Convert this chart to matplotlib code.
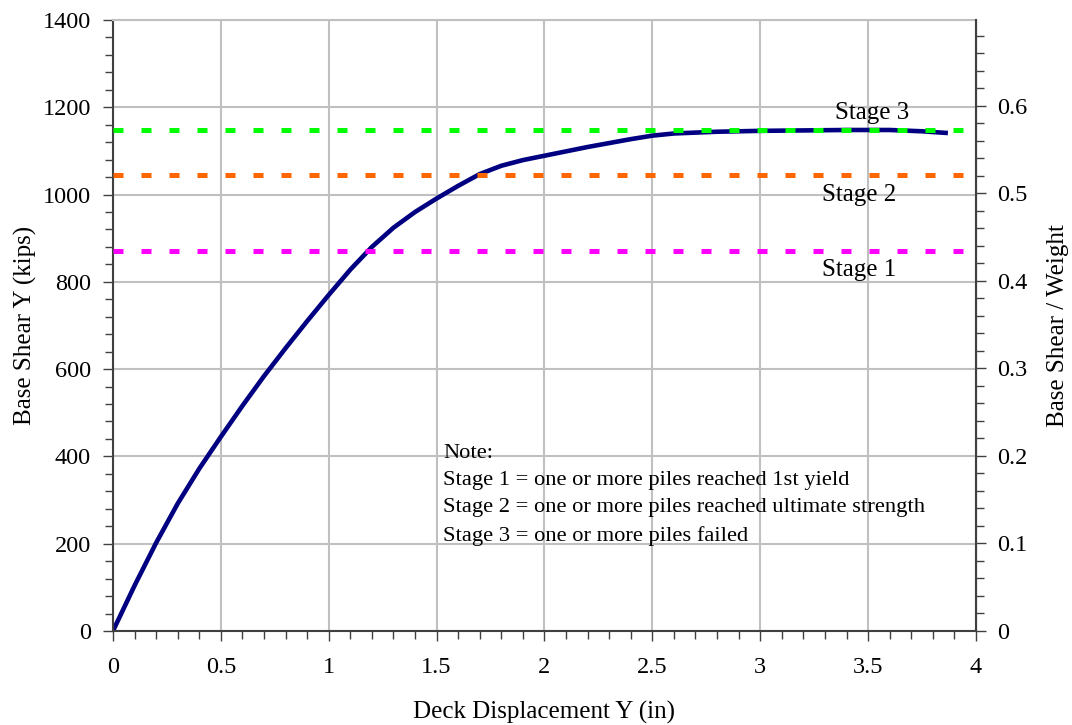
import matplotlib.pyplot as plt
from matplotlib.ticker import MultipleLocator

# pushover curve
displacement = [0.0, 0.1, 0.2, 0.3, 0.4, 0.5, 0.6, 0.7, 0.8, 0.9, 1.0,
                1.1, 1.2, 1.3, 1.4, 1.5, 1.6, 1.7, 1.8, 1.9, 2.0,
                2.1, 2.2, 2.3, 2.4, 2.5, 2.6, 2.8, 3.0, 3.2, 3.4, 3.6, 3.75, 3.87]
base_shear = [0, 104, 202, 292, 372, 445, 516, 584, 648, 710, 770,
              828, 880, 924, 960, 991, 1020, 1047, 1066, 1079, 1089,
              1099, 1109, 1118, 1127, 1135, 1140, 1144, 1146, 1147, 1148, 1148, 1145, 1141]

stage_names = ['Stage 1', 'Stage 2', 'Stage 3']
stage_levels = [870, 1045, 1148]
stage_colors = ['#ff00ff', '#ff6600', '#00ff00']
stage_label_pos = [(3.46, 827), (3.46, 999), (3.52, 1187)]

deck_weight = 2005  # kips, for the ratio axis

note_lines = ['Note:',
              'Stage 1 = one or more piles reached 1st yield',
              'Stage 2 = one or more piles reached ultimate strength',
              'Stage 3 = one or more piles failed']

plt.rcParams['font.family'] = ['Liberation Serif', 'DejaVu Serif']

fig = plt.figure(figsize=(10.72, 7.25), dpi=100)
ax = fig.add_axes([0.1054, 0.1297, 0.805, 0.8427])

spine_col = '#404040'
grid_col = '#c0c0c0'

for lvl, col in zip(stage_levels, stage_colors):
    ax.plot([0, 3.97], [lvl, lvl], color=col, lw=3.6,
            linestyle=(0, (2, 3.6)), solid_capstyle='butt', dash_capstyle='butt', zorder=3)

ax.plot(displacement, base_shear, color='#000080', lw=3.3, zorder=2,
        solid_capstyle='butt', solid_joinstyle='round')

for name, (tx, ty) in zip(stage_names, stage_label_pos):
    ax.text(tx, ty, name, fontsize=18, ha='center', va='center')

ax.text(1.53, 428, '\n'.join(note_lines), fontsize=16.2, ha='left', va='top',
        linespacing=1.58)

ax.set_xlim(0, 4)
ax.set_ylim(0, 1400)
ax.xaxis.set_major_locator(MultipleLocator(0.5))
ax.xaxis.set_minor_locator(MultipleLocator(0.1))
ax.yaxis.set_major_locator(MultipleLocator(200))
ax.yaxis.set_minor_locator(MultipleLocator(40))
ax.xaxis.set_major_formatter(lambda v, p: f'{v:g}')
ax.grid(True, which='major', color=grid_col, lw=1.5)
ax.set_axisbelow(True)

ax.tick_params(which='major', direction='out', length=7, width=1, color=spine_col,
               labelsize=17.5)
ax.tick_params(which='minor', direction='out', length=6, width=1, color=spine_col)
ax.tick_params(axis='x', which='major', pad=12)
ax.tick_params(axis='y', which='major', pad=9)

for s in ['left', 'bottom']:
    ax.spines[s].set_color(spine_col)
    ax.spines[s].set_linewidth(1.5)
ax.spines['top'].set_color(grid_col)
ax.spines['top'].set_linewidth(1.5)

ax.set_xlabel('Deck Displacement Y (in)', fontsize=18, labelpad=16)
ax.set_ylabel('Base Shear Y (kips)', fontsize=18, labelpad=4)

ax2 = ax.twinx()
ax2.set_ylim(0, 1400 / deck_weight)
ax2.yaxis.set_major_locator(MultipleLocator(0.1))
ax2.yaxis.set_minor_locator(MultipleLocator(0.02))
ax2.yaxis.set_major_formatter(lambda v, p: f'{v:g}')
ax2.tick_params(which='major', direction='out', length=7, width=1, color=spine_col,
                labelsize=17.5, pad=8)
ax2.tick_params(which='minor', direction='out', length=6, width=1, color=spine_col)
ax2.spines['right'].set_color(spine_col)
ax2.spines['right'].set_linewidth(1.5)
ax2.spines['top'].set_visible(False)
ax2.spines['left'].set_visible(False)
ax2.spines['bottom'].set_visible(False)
ax2.set_ylabel('Base Shear / Weight', fontsize=18, labelpad=14)

fig.savefig('out.png', dpi=100)
